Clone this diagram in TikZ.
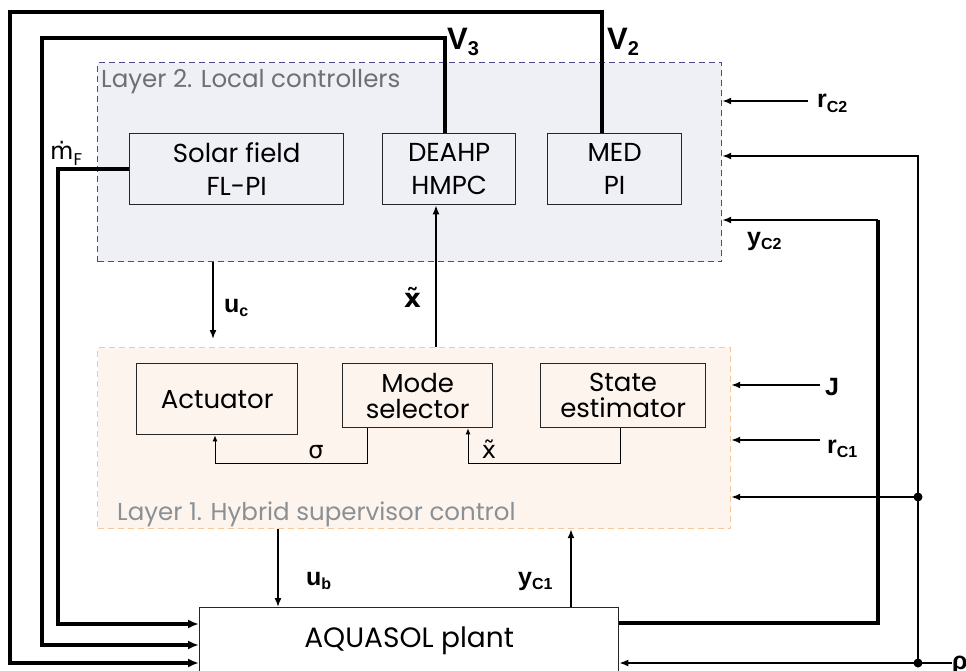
\documentclass[tikz,border=0pt]{standalone}
\usepackage{fontspec}
\setmainfont{Poppins}
\newfontfamily\lab{Liberation Sans}
\newfontfamily\dvs{DejaVu Sans}
\usetikzlibrary{arrows.meta}
\definecolor{ltwofill}{HTML}{EFEFF6}
\definecolor{ltwoline}{HTML}{4B4B8C}
\definecolor{lonefill}{HTML}{FDF4EE}
\definecolor{loneline}{HTML}{F5C79C}
\definecolor{ttltwo}{HTML}{6E6E74}
\definecolor{ttlone}{HTML}{8A9094}
\newcommand\sgl[3][16]{{\lab\bfseries #2\raisebox{-0.35ex}{\fontsize{#1}{#1}\selectfont #3}}}
\begin{document}
\begin{tikzpicture}[x=1pt,y=-1pt,
  layertwo/.style={draw=ltwoline,fill=ltwofill,dash pattern=on 6pt off 4pt,line width=1.2pt,anchor=north west,inner sep=0pt},
  layerone/.style={draw=loneline,fill=lonefill,dash pattern=on 6pt off 4pt,line width=1.2pt,anchor=north west,inner sep=0pt},
  blk/.style={draw=black!85,line width=1.3pt,anchor=north west,inner sep=0pt,align=center,font=\fontsize{26}{33}\selectfont},
  blkb/.style={blk,font=\fontsize{26}{26}\selectfont},
  title/.style={anchor=base west,inner sep=0pt,font=\fontsize{24.5}{24.5}\selectfont},
  lbl/.style={anchor=base west,inner sep=0pt,font=\fontsize{25}{25}\selectfont},
  thk/.style={line width=3.6pt},
  sigln/.style={line width=1.6pt,-{Latex[length=9pt,width=7pt]}},
  thkarr/.style={line width=3.6pt,-{Latex[length=11pt,width=9pt]}},
  inner/.style={line width=1pt,-{Latex[length=6pt,width=5pt]}}
]
\useasboundingbox (0,0) rectangle (966,671);
\clip (0,0) rectangle (966,671);
% layers
\node[layertwo,minimum width=624pt,minimum height=199pt] (L2) at (97,62) {};
\node[layerone,minimum width=633pt,minimum height=181pt] (L1) at (97,347) {};
\node[title,text=ttltwo] (t2) at (101,88) {Layer 2. Local controllers};
\node[title,text=ttlone] (t1) at (117,520) {Layer 1. Hybrid supervisor control};
% blocks
\node[blk,minimum width=214pt,minimum height=71pt] (solar) at (129,133) {Solar field\\FL-PI};
\node[blk,minimum width=133pt,minimum height=71pt] (deahp) at (382,133) {DEAHP\\HMPC};
\node[blk,minimum width=134pt,minimum height=71pt] (med) at (547,133) {MED\\PI};
\node[blkb,minimum width=161pt,minimum height=71pt] (act) at (136,363) {Actuator};
\node[blkb,minimum width=150pt,minimum height=64pt] (mode) at (342,363) {Mode\\selector};
\node[blkb,minimum width=165pt,minimum height=64pt] (state) at (540,363) {State\\estimator};
\node[blk,fill=white,minimum width=419pt,minimum height=66pt,font=\fontsize{28}{28}\selectfont] (plant) at (199,607) {AQUASOL plant};
% helper coordinates
\coordinate (ca) at (10,12);
\coordinate (cb) at (42,38);
\coordinate (vtwox) at (602,0);
\coordinate (vthreex) at (445,0);
\coordinate (mfx) at (58,0);
\coordinate (ya) at (0,663);
\coordinate (yb) at (0,645);
\coordinate (yc) at (0,624);
\coordinate (yd) at (0,623);
\coordinate (ycc) at (878,220);
\coordinate (jtop) at (918,156);
\coordinate (jmid) at (918,497);
\coordinate (jbot) at (918,663);
\coordinate (rho) at (952,663);
\coordinate (rctwo) at (808,101);
\coordinate (jin) at (820,385);
\coordinate (rcone) at (820,440);
\coordinate (ucx) at (213,0);
\coordinate (xtx) at (436,0);
\coordinate (ubx) at (278,0);
\coordinate (ycx) at (571,0);
\coordinate (sgx) at (367,0);
\coordinate (acx) at (215,0);
\coordinate (stx) at (620,0);
\coordinate (mdx) at (468,0);
\coordinate (lowy) at (0,463);
% outer loops
\draw[thkarr] (med.north -| vtwox) |- (ca) |- (plant.west |- ya);
\draw[thkarr] (deahp.north -| vthreex) |- (cb) |- (plant.west |- yb);
\draw[thkarr] (solar.west) -- (solar.west -| mfx) |- (plant.west |- yc);
% right side
\draw[thk] (plant.east |- yd) -| (ycc);
\draw[sigln] (ycc) -- (L2.east |- ycc);
\draw[sigln] (jbot) |- (L2.east |- jtop);
\draw[sigln] (jmid) -- (L1.east |- jmid);
\draw[sigln] (rho) -- (plant.east |- rho);
\fill (jmid) circle[radius=4.5];
\fill (jbot) circle[radius=4.5];
\draw[sigln] (rctwo) -- (L2.east |- rctwo);
\draw[sigln] (jin) -- (L1.east |- jin);
\draw[sigln] (rcone) -- (L1.east |- rcone);
% vertical signals
\draw[sigln,shorten >=8pt] (L2.south -| ucx) -- (L1.north -| ucx);
\draw[sigln] (L1.north -| xtx) -- (deahp.south -| xtx);
\draw[sigln] (L1.south -| ubx) -- (plant.north -| ubx);
\draw[sigln] (plant.north -| ycx) -- (L1.south -| ycx);
% inner
\draw[inner] (mode.south -| sgx) -- (sgx |- lowy) -| (act.south -| acx);
\draw[inner] (state.south -| stx) -- (stx |- lowy) -| (mode.south -| mdx);
% labels
\node[lbl,font=\fontsize{31}{31}\selectfont] (vthree) at (447,50) {\sgl[20]{V}{3}};
\node[lbl,font=\fontsize{31}{31}\selectfont] (vtwo) at (607,50) {\sgl[20]{V}{2}};
\node[lbl] (rctwol) at (817,108) {\sgl{r}{C2}};
\node[lbl] (yctwol) at (747,245) {\sgl{y}{C2}};
\node[lbl] (jl) at (825,395) {{\lab\bfseries J}};
\node[lbl] (rconel) at (827,453) {\sgl{r}{C1}};
\node[lbl] (ycl) at (518,585) {\sgl{y}{C1}};
\node[lbl] (ubl) at (306,585) {\sgl{u}{b}};
\node[lbl] (ucl) at (224,312) {\sgl{u}{c}};
\node[lbl] (rhol) at (952,669) {{\lab\bfseries ρ}};
\node[lbl,font=\fontsize{26}{26}\selectfont] (xtl) at (404,307) {{\dvs\bfseries x̃}};
\node[anchor=base west,inner sep=0pt,font=\fontsize{24}{24}\selectfont] (mfl) at (50,160) {{\dvs ṁ}\raisebox{-0.4ex}{\fontsize{17}{17}\selectfont F}};
\node[inner sep=0pt,font=\fontsize{24}{24}\selectfont] (sgl) at (316,452) {{\dvs σ}};
\node[inner sep=0pt,font=\fontsize{24}{24}\selectfont] (xil) at (489,449) {{\dvs x̃}};
\end{tikzpicture}
\end{document}
